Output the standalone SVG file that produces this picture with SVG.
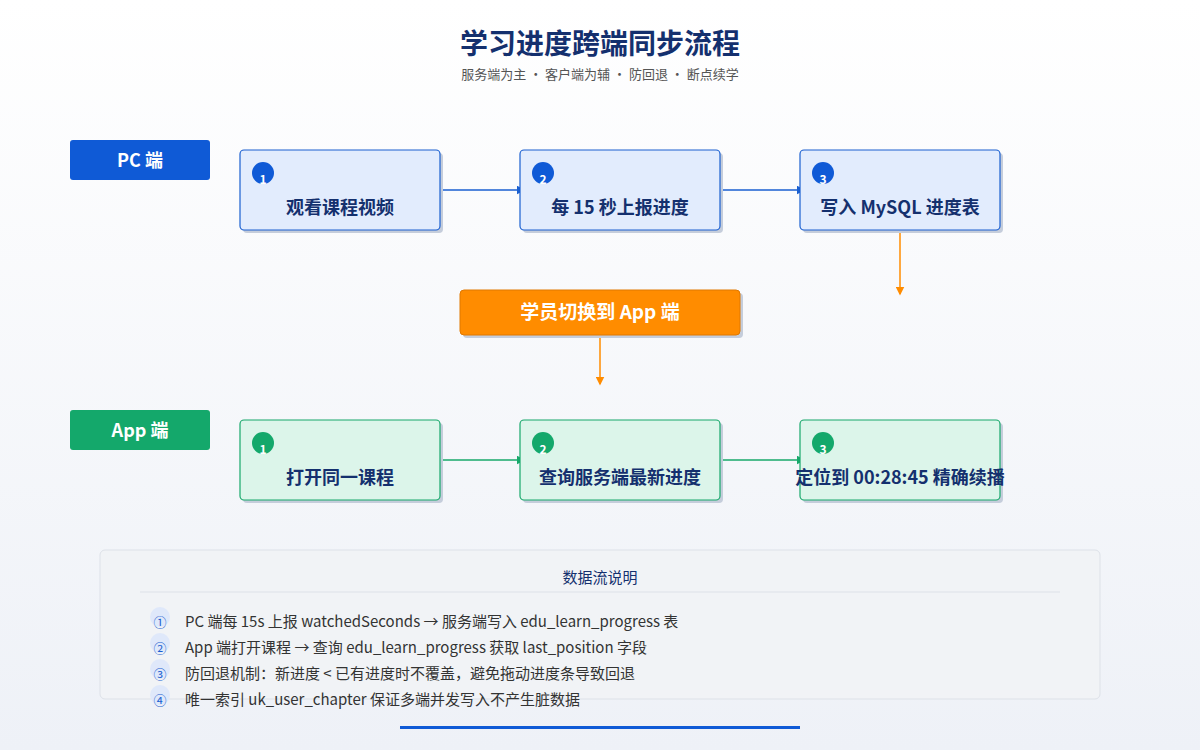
<svg xmlns="http://www.w3.org/2000/svg" width="1200" height="750" viewBox="0 0 1200 750">
<defs>
<linearGradient id="bg" x1="0" y1="0" x2="0" y2="1"><stop offset="0" stop-color="#ffffff"/><stop offset="1" stop-color="#eef1f7"/></linearGradient>
<marker id="mb" markerWidth="6" markerHeight="6" refX="5" refY="3" orient="auto"><path d="M0,0 L6,3 L0,6z" fill="#1a5fd0"/></marker>
<marker id="mg" markerWidth="6" markerHeight="6" refX="5" refY="3" orient="auto"><path d="M0,0 L6,3 L0,6z" fill="#17a86a"/></marker>
<marker id="mo" markerWidth="6" markerHeight="6" refX="5" refY="3" orient="auto"><path d="M0,0 L6,3 L0,6z" fill="#ff8c00"/></marker>
</defs>
<style>
text{font-family:"Noto Sans CJK SC","Noto Sans",sans-serif}
.t{font-size:18px;font-weight:bold;fill:#14306e;text-anchor:middle}
.pc{fill:#e2ecfd;stroke:#1a5fd0;stroke-width:1.2}
.ap{fill:#dcf5ea;stroke:#17a86a;stroke-width:1.2}
.sh{fill:#c5cddb}
.n{font-size:12px;font-weight:bold;fill:#fff;text-anchor:middle}
.li{font-size:15px;fill:#333}
.ci{font-size:13px;fill:#1a5fd0;text-anchor:middle}
</style>
<rect width="1200" height="750" fill="url(#bg)"/>
<text x="600" y="54" font-size="28" font-weight="bold" fill="#14306e" text-anchor="middle">学习进度跨端同步流程</text>
<text x="600" y="79" font-size="13" fill="#555" text-anchor="middle">服务端为主 · 客户端为辅 · 防回退 · 断点续学</text>

<g id="lane-pc"><rect x="70" y="140" width="140" height="40" rx="3" fill="#0f5ad6"/><text x="140" y="167" font-size="18" font-weight="bold" fill="#fff" text-anchor="middle">PC 端</text></g>
<g id="lane-app"><rect x="70" y="410" width="140" height="40" rx="3" fill="#14a86b"/><text x="140" y="437" font-size="18" font-weight="bold" fill="#fff" text-anchor="middle">App 端</text></g>

<g id="conn" fill="none" stroke-width="1.5">
<line x1="441" y1="190" x2="524" y2="190" stroke="#1a5fd0" marker-end="url(#mb)"/>
<line x1="721" y1="190" x2="804" y2="190" stroke="#1a5fd0" marker-end="url(#mb)"/>
<line x1="900" y1="231" x2="900" y2="294" stroke="#ff8c00" marker-end="url(#mo)"/>
<line x1="600" y1="335" x2="600" y2="384" stroke="#ff8c00" marker-end="url(#mo)"/>
<line x1="441" y1="460" x2="524" y2="460" stroke="#17a86a" marker-end="url(#mg)"/>
<line x1="721" y1="460" x2="804" y2="460" stroke="#17a86a" marker-end="url(#mg)"/>
</g>

<g id="pc1"><rect class="sh" x="243" y="153" width="200" height="80" rx="4"/><rect class="pc" x="240" y="150" width="200" height="80" rx="4"/><circle cx="263" cy="173" r="11" fill="#0f5ad6"/><text class="n" x="263" y="184">1</text><text class="t" x="340" y="214">观看课程视频</text></g>
<g id="pc2"><rect class="sh" x="523" y="153" width="200" height="80" rx="4"/><rect class="pc" x="520" y="150" width="200" height="80" rx="4"/><circle cx="543" cy="173" r="11" fill="#0f5ad6"/><text class="n" x="543" y="184">2</text><text class="t" x="620" y="214">每 15 秒上报进度</text></g>
<g id="pc3"><rect class="sh" x="803" y="153" width="200" height="80" rx="4"/><rect class="pc" x="800" y="150" width="200" height="80" rx="4"/><circle cx="823" cy="173" r="11" fill="#0f5ad6"/><text class="n" x="823" y="184">3</text><text class="t" x="900" y="214">写入 MySQL 进度表</text></g>

<g id="switch"><rect class="sh" x="463" y="293" width="280" height="45" rx="4"/><rect x="460" y="290" width="280" height="45" rx="4" fill="#ff8c00" stroke="#e07800"/><text x="600" y="319" font-size="19" font-weight="bold" fill="#fff" text-anchor="middle">学员切换到 App 端</text></g>

<g id="app1"><rect class="sh" x="243" y="423" width="200" height="80" rx="4"/><rect class="ap" x="240" y="420" width="200" height="80" rx="4"/><circle cx="263" cy="443" r="11" fill="#14a86b"/><text class="n" x="263" y="454">1</text><text class="t" x="340" y="484">打开同一课程</text></g>
<g id="app2"><rect class="sh" x="523" y="423" width="200" height="80" rx="4"/><rect class="ap" x="520" y="420" width="200" height="80" rx="4"/><circle cx="543" cy="443" r="11" fill="#14a86b"/><text class="n" x="543" y="454">2</text><text class="t" x="620" y="484">查询服务端最新进度</text></g>
<g id="app3"><rect class="sh" x="803" y="423" width="200" height="80" rx="4"/><rect class="ap" x="800" y="420" width="200" height="80" rx="4"/><circle cx="823" cy="443" r="11" fill="#14a86b"/><text class="n" x="823" y="454">3</text><text class="t" x="900" y="484">定位到 00:28:45 精确续播</text></g>

<g id="notes">
<rect x="100" y="550" width="1000" height="149" rx="5" fill="#f1f3f6" stroke="#dde1e8"/>
<text x="600" y="583" font-size="15" fill="#14306e" text-anchor="middle">数据流说明</text>
<line x1="140" y1="592" x2="1060" y2="592" stroke="#dde1e8"/>
<g fill="#dfe8fa"><circle cx="160" cy="617" r="10"/><circle cx="160" cy="643" r="10"/><circle cx="160" cy="669" r="10"/><circle cx="160" cy="695" r="10"/></g>
<text class="ci" x="160" y="627">①</text><text class="ci" x="160" y="653">②</text><text class="ci" x="160" y="679">③</text><text class="ci" x="160" y="705">④</text>
<text class="li" x="185" y="627">PC 端每 15s 上报 watchedSeconds → 服务端写入 edu_learn_progress 表</text>
<text class="li" x="185" y="653">App 端打开课程 → 查询 edu_learn_progress 获取 last_position 字段</text>
<text class="li" x="185" y="679">防回退机制：新进度 &lt; 已有进度时不覆盖，避免拖动进度条导致回退</text>
<text class="li" x="185" y="705">唯一索引 uk_user_chapter 保证多端并发写入不产生脏数据</text>
</g>
<rect x="400" y="726" width="400" height="3" fill="#0f5ad6"/>
</svg>
